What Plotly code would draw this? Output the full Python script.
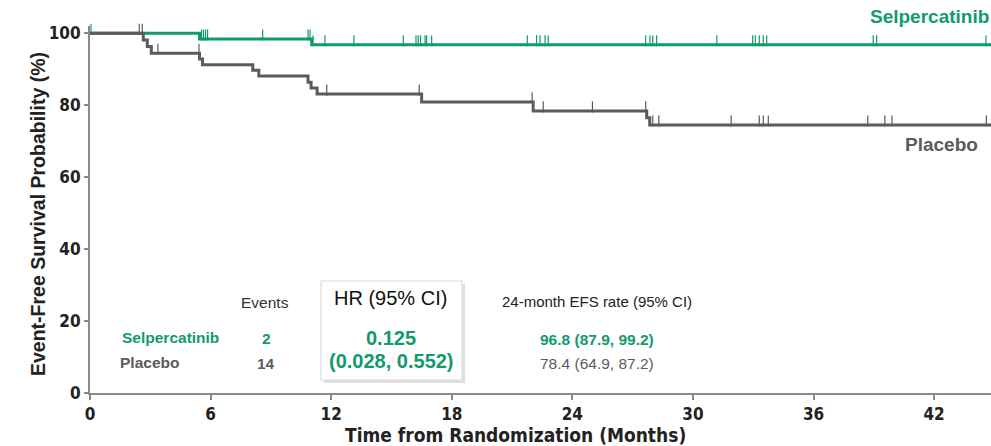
import numpy as np
import plotly.graph_objects as go

# ---- data ----
x_ticks = [0, 6, 12, 18, 24, 30, 36, 42]
y_ticks = [0, 20, 40, 60, 80, 100]
max_followup = 44.83

sel_event_times = [5.45, 11.03]
sel_event_surv = [98.4, 96.8]
sel_censor_times = [0.05, 5.55, 5.65, 5.75, 5.85, 8.59, 10.85, 10.95, 11.1, 11.69, 13.13,
                    15.59, 16.22, 16.33, 16.45, 16.67, 16.75, 17.0,
                    21.76, 22.22, 22.39, 22.64, 22.8,
                    27.65, 27.86, 28.0, 28.19,
                    31.19, 32.97, 33.1, 33.3, 33.5, 33.67, 38.97, 39.14, 44.58]

pla_event_times = [2.65, 2.85, 3.05, 5.45, 5.6, 8.1, 8.4, 10.85, 11.0, 11.3, 16.5, 22.05, 27.7, 27.85]
pla_event_surv = [98.1, 96.3, 94.4, 92.8, 91.2, 89.7, 88.1, 86.4, 84.8, 83.1, 80.9, 78.4, 76.5, 74.5]
pla_censor_times = [2.45, 2.6, 3.38, 5.42, 11.78, 16.38, 22.0, 22.55, 25.0, 27.65, 28.0, 28.3,
                    31.9, 33.3, 33.5, 33.75, 38.7, 39.55, 39.9, 44.6]

GREEN = "#129a6f"
GRAY = "#5b5b5b"


def step_xy(times, surv, end):
    xs = [0] + list(times) + [end]
    ys = [100] + list(surv) + [surv[-1]]
    return xs, ys


def surv_at(times, surv, t):
    t_arr = np.asarray(times)
    s_arr = np.asarray([100] + list(surv))
    idx = np.searchsorted(t_arr, np.asarray(t), side="right")
    return s_arr[idx]


fig = go.Figure()

for times, surv, cens, col in [
    (sel_event_times, sel_event_surv, sel_censor_times, GREEN),
    (pla_event_times, pla_event_surv, pla_censor_times, GRAY),
]:
    xs, ys = step_xy(times, surv, max_followup)
    fig.add_trace(go.Scatter(x=xs, y=ys, mode="lines", line=dict(color=col, width=3, shape="hv"),
                             hoverinfo="skip", showlegend=False))
    cy = surv_at(times, surv, cens) + 1.1
    fig.add_trace(go.Scatter(x=cens, y=cy, mode="markers",
                             marker=dict(symbol="line-ns", size=8, line=dict(color=col, width=1.2)),
                             cliponaxis=False, hoverinfo="skip", showlegend=False))

L, R, T, B = 90, 0, 26, 53
W, H = 991, 446
pw, ph = W - L - R, H - T - B


def px(x):
    return (x - L) / pw


def py(y):
    return (H - B - y) / ph


NARROW = "DejaVu Sans Condensed, Liberation Sans Narrow, Arial Narrow, sans-serif"
ARIAL = "Liberation Sans, Arial, sans-serif"

# box with shadow
fig.add_shape(type="rect", xref="paper", yref="paper", x0=px(324), x1=px(465), y0=py(383), y1=py(284),
              fillcolor="rgba(0,0,0,0.12)", line=dict(width=0), layer="above")
fig.add_shape(type="rect", xref="paper", yref="paper", x0=px(321), x1=px(462), y0=py(380), y1=py(281),
              fillcolor="white", line=dict(color="#d8d8d8", width=1), layer="above")

ann = [
    ("Events", 265, 302, 15.5, "#333333"),
    ("HR (95% CI)", 390, 298, 20, "#111111"),
    ("24-month EFS rate (95% CI)", 597, 301, 15, "#222222"),
    ("<b>Selpercatinib</b>", 170, 337, 15.5, GREEN),
    ("<b>2</b>", 266, 338, 15.5, GREEN),
    ("<b>0.125</b>", 391, 338, 20, GREEN),
    ("<b>96.8 (87.9, 99.2)</b>", 597, 339, 15.5, GREEN),
    ("<b>Placebo</b>", 149, 362, 15.5, GRAY),
    ("<b>14</b>", 266, 363, 15.5, GRAY),
    ("<b>(0.028, 0.552)</b>", 391, 361, 20, GREEN),
    ("78.4 (64.9, 87.2)", 597, 363, 15.5, GRAY),
    ("<b>Selpercatinib</b>", 929, 17, 19, GREEN),
    ("<b>Placebo</b>", 941, 144, 19, GRAY),
]
for text, x, y, size, col in ann:
    fig.add_annotation(text=text, xref="paper", yref="paper", x=px(x), y=py(y), showarrow=False,
                       xanchor="center", yanchor="middle", font=dict(family=ARIAL, size=size, color=col))

fig.add_annotation(text="<b>Event-Free Survival Probability (%)</b>", xref="paper", yref="paper",
                   x=px(38), y=py(214), textangle=-90, showarrow=False, xanchor="center", yanchor="middle",
                   font=dict(family=ARIAL, size=19.5, color="#222222"))
fig.add_annotation(text="<b>Time from Randomization (Months)</b>", xref="paper", yref="paper",
                   x=px(515), y=py(435), showarrow=False, xanchor="center", yanchor="middle",
                   font=dict(family=NARROW, size=19, color="#222222"))

tickfont = dict(family=NARROW, size=17, color="#222222", weight="bold")
fig.update_layout(
    width=W, height=H, margin=dict(l=L, r=R, t=T, b=B),
    plot_bgcolor="white", paper_bgcolor="white",
    xaxis=dict(range=[0, max_followup], tickvals=x_ticks, ticks="outside", ticklen=5, tickwidth=1.5,
               tickcolor="#888888", showline=True, linecolor="#8a8a8a", linewidth=2, showgrid=False,
               zeroline=False, tickfont=tickfont),
    yaxis=dict(range=[0, 102], tickvals=y_ticks, ticks="outside", ticklen=4, tickwidth=1.5,
               tickcolor="#888888", showline=True, linecolor="#8a8a8a", linewidth=2, showgrid=False,
               zeroline=False, tickfont=tickfont),
)

fig.write_html("out.html", config={"displayModeBar": False},
               post_script="document.body.style.margin='0px';")
